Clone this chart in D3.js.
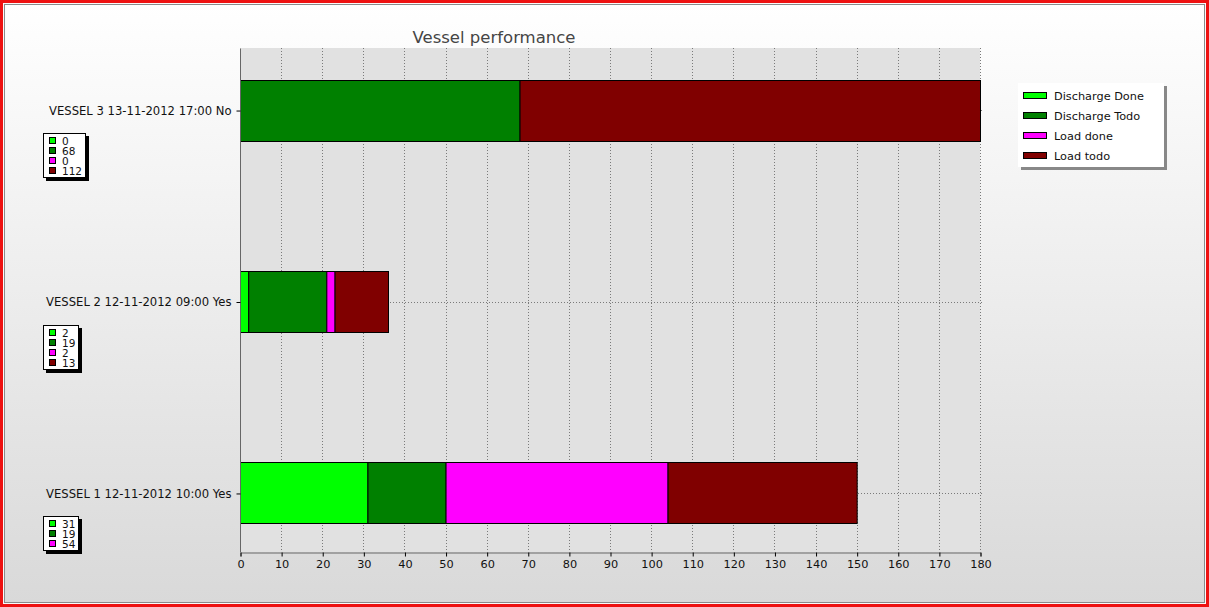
<!DOCTYPE html>
<html>
<head>
<meta charset="utf-8">
<script src="https://cdn.jsdelivr.net/npm/d3@7"></script>
<style>
  html, body { margin: 0; padding: 0; background: #fff; }
  svg { display: block; font-family: "DejaVu Sans", Verdana, sans-serif; }
</style>
</head>
<body>
<svg id="chart" width="1209" height="607"></svg>
<script>
// Vessels, top to bottom
const categories = [
  "VESSEL 3 13-11-2012 17:00 No",
  "VESSEL 2 12-11-2012 09:00 Yes",
  "VESSEL 1 12-11-2012 10:00 Yes"
];
const seriesNames = ["Discharge Done", "Discharge Todo", "Load done", "Load todo"];
const seriesColors = ["#00ff00", "#008000", "#ff00ff", "#800000"];
const dischargeDone = [0, 2, 31];
const dischargeTodo = [68, 19, 19];
const loadDone = [0, 2, 54];
const loadTodo = [112, 13, 46];
// number of rows listed in each vessel's value box
const boxRows = [4, 4, 3];
const xTicks = d3.range(0, 181, 10);

const W = 1209, H = 607;
const plot = { left: 240, right: 980, top: 48, bottom: 552 };

const svg = d3.select("#chart");
const defs = svg.append("defs");
const grad = defs.append("linearGradient").attr("id", "bg").attr("x1", 0).attr("y1", 0).attr("x2", 0).attr("y2", 1);
grad.append("stop").attr("offset", 0).attr("stop-color", "#ffffff");
grad.append("stop").attr("offset", 1).attr("stop-color", "#d9d9d9");

// frame
svg.append("rect").attr("x", 0).attr("y", 0).attr("width", W).attr("height", H).attr("fill", "#fafafa");
svg.append("rect").attr("x", 4.5).attr("y", 4.5).attr("width", W - 9).attr("height", H - 9)
  .attr("fill", "url(#bg)").attr("stroke", "#8a8a8a").attr("stroke-width", 1);
svg.append("rect").attr("x", 1.5).attr("y", 1.5).attr("width", W - 3).attr("height", H - 3)
  .attr("fill", "none").attr("stroke", "#ee1111").attr("stroke-width", 3);

const x = d3.scaleLinear().domain([0, 180]).range([plot.left, plot.right]);
const y = d3.scalePoint().domain(categories).range([plot.top, plot.bottom + 3]).padding(0.324);
const barH = 61;

// plot background
svg.append("rect").attr("x", plot.left).attr("y", plot.top)
  .attr("width", plot.right - plot.left).attr("height", plot.bottom - plot.top)
  .attr("fill", "#e1e1e1");

// grid
const grid = svg.append("g").attr("stroke", "#7a7a7a").attr("stroke-dasharray", "1,2").attr("stroke-width", 1);
grid.selectAll("line.v").data(xTicks.filter(d => d > 0)).join("line")
  .attr("x1", d => Math.round(x(d)) + 0.5).attr("x2", d => Math.round(x(d)) + 0.5)
  .attr("y1", plot.top).attr("y2", plot.bottom);
grid.selectAll("line.h").data(categories).join("line")
  .attr("x1", plot.left).attr("x2", plot.right + 2)
  .attr("y1", d => Math.round(y(d)) + 0.5).attr("y2", d => Math.round(y(d)) + 0.5);

// stacked bars
const rows = categories.map((c, i) => ({
  cat: c,
  vals: [dischargeDone[i], dischargeTodo[i], loadDone[i], loadTodo[i]]
}));
const stack = d3.stack().keys([0, 1, 2, 3]).value((d, k) => d.vals[k]);
const layers = stack(rows);
svg.append("g").selectAll("g").data(layers).join("g")
  .attr("fill", (d, i) => seriesColors[i])
  .selectAll("rect").data(d => d.filter(s => s[1] - s[0] > 0)).join("rect")
  .attr("x", d => x(d[0]) + 0.5)
  .attr("width", d => x(d[1]) - x(d[0]))
  .attr("y", d => Math.round(y(d.data.cat) - barH / 2) + 0.5)
  .attr("height", barH)
  .attr("stroke", "#000").attr("stroke-width", 1);

// axes
const xAxis = svg.append("g").attr("transform", `translate(0.5,${plot.bottom + 0.5})`)
  .call(d3.axisBottom(x).tickValues(xTicks).tickSize(4).tickPadding(3));
xAxis.select(".domain").attr("stroke", "#666");
xAxis.selectAll(".tick line").attr("stroke", "#000");
xAxis.selectAll("text").attr("font-size", 11.3).attr("fill", "#111").attr("font-family", "DejaVu Sans, sans-serif");

const yAxis = svg.append("g").attr("transform", `translate(${plot.left + 0.5},0.5)`)
  .call(d3.axisLeft(y).tickSize(4).tickPadding(5));
yAxis.select(".domain").attr("stroke", "#666").attr("d", `M0,${plot.top}V${plot.bottom}`);
yAxis.selectAll(".tick line").attr("stroke", "#000");
yAxis.selectAll("text").attr("font-size", 11.6).attr("fill", "#111").attr("font-family", "DejaVu Sans, sans-serif");

// title
svg.append("text").attr("x", 494).attr("y", 43).attr("text-anchor", "middle")
  .attr("font-size", 16.5).attr("fill", "#454545").text("Vessel performance");

// per-vessel value boxes
rows.forEach((r, i) => {
  const n = boxRows[i];
  const top = Math.round(y(r.cat)) + 23;
  const g = svg.append("g");
  const texts = [];
  const tg = g.append("g");
  for (let k = 0; k < n; k++) {
    const cy = top + 8 + k * 10;
    tg.append("rect").attr("x", 49.5).attr("y", cy - 3.5).attr("width", 6).attr("height", 6)
      .attr("fill", seriesColors[k]).attr("stroke", "#000");
    texts.push(tg.append("text").attr("x", 62).attr("y", cy + 3.5).attr("font-size", 10.5).attr("fill", "#111")
      .text(r.vals[k]));
  }
  const tw = d3.max(texts, t => t.node().getComputedTextLength());
  const bw = Math.round(62 + tw + 3 - 43);
  const bh = n * 10 + 4;
  g.insert("rect", ":first-child").attr("x", 43.5).attr("y", top + 0.5).attr("width", bw).attr("height", bh)
    .attr("fill", "#fff").attr("stroke", "#000");
  g.insert("rect", ":first-child").attr("x", 46).attr("y", top + 3).attr("width", bw + 1).attr("height", bh + 1)
    .attr("fill", "#000");
});

// legend
const lg = svg.append("g");
lg.append("rect").attr("x", 1021).attr("y", 86).attr("width", 146).attr("height", 84).attr("fill", "#888");
lg.append("rect").attr("x", 1018).attr("y", 83).attr("width", 146).attr("height", 84).attr("fill", "#fff");
seriesNames.forEach((s, k) => {
  const cy = 95 + k * 20;
  lg.append("rect").attr("x", 1023.5).attr("y", cy - 2.5).attr("width", 23).attr("height", 6)
    .attr("fill", seriesColors[k]).attr("stroke", "#000");
  lg.append("text").attr("x", 1054).attr("y", cy + 4.5).attr("font-size", 11.3).attr("fill", "#111").text(s);
});
</script>
</body>
</html>
